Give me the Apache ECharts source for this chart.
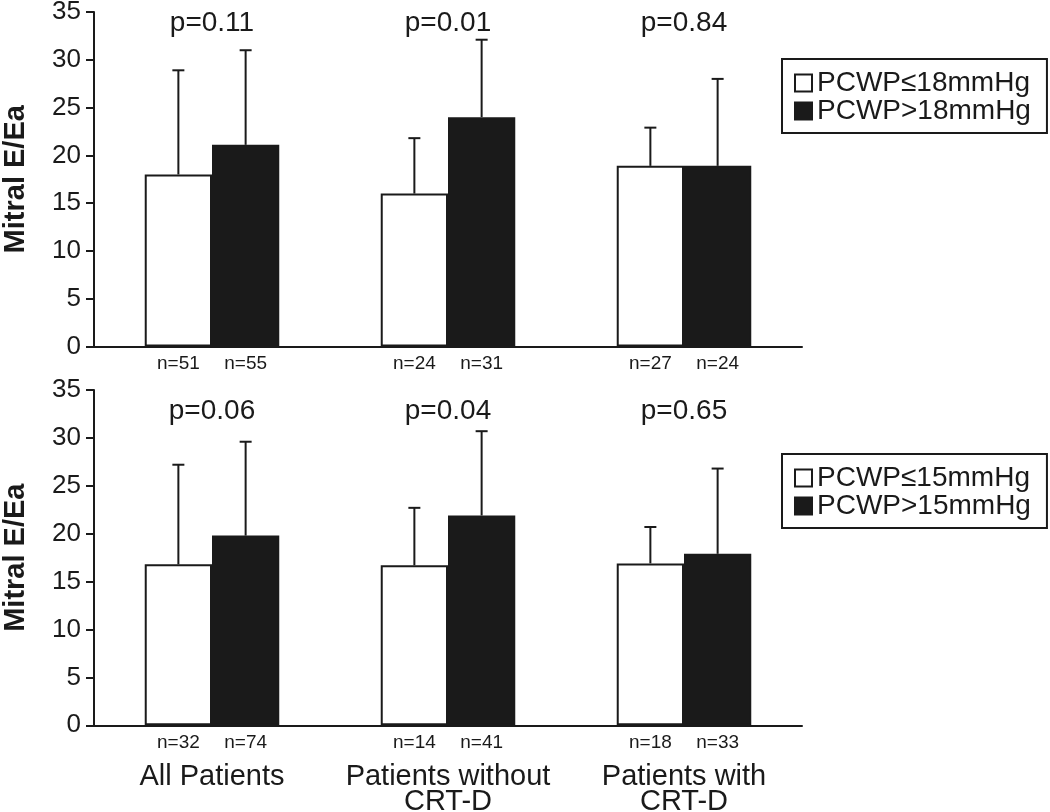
<!DOCTYPE html>
<html><head><meta charset="utf-8">
<script src="https://cdn.jsdelivr.net/npm/echarts@6/dist/echarts.min.js"></script>
<style>html,body{margin:0;padding:0;background:#fff}#c{width:1050px;height:812px}</style>
</head><body><div id="c"></div>
<script>
// ---- data ----
const categories = ['All Patients', 'Patients without\nCRT-D', 'Patients with\nCRT-D'];

const topLowName = 'PCWP≤18mmHg';
const topHighName = 'PCWP>18mmHg';
const topLowMean = [18.0, 16.0, 18.9];
const topLowUpper = [28.9, 21.8, 22.9];
const topHighMean = [21.1, 24.0, 18.9];
const topHighUpper = [31.0, 32.1, 28.0];
const topLowN = [51, 24, 27];
const topHighN = [55, 31, 24];
const topP = ['p=0.11', 'p=0.01', 'p=0.84'];

const botLowName = 'PCWP≤15mmHg';
const botHighName = 'PCWP>15mmHg';
const botLowMean = [16.8, 16.7, 16.9];
const botLowUpper = [27.2, 22.7, 20.7];
const botHighMean = [19.8, 21.9, 17.9];
const botHighUpper = [29.6, 30.7, 26.8];
const botLowN = [32, 14, 18];
const botHighN = [74, 41, 33];
const botP = ['p=0.06', 'p=0.04', 'p=0.65'];

// ---- styling ----
const INK = '#1a1a1a';
const FONT = "'Liberation Sans', Arial, Helvetica, sans-serif";
const GAP = 0.43;

function barSeries(name, idx, mean, nArr, fill) {
  return {
    name: name, type: 'bar', xAxisIndex: idx, yAxisIndex: idx,
    data: mean, barGap: 0, barCategoryGap: (GAP * 100) + '%',
    itemStyle: { color: fill, borderColor: INK, borderWidth: 2 },
    label: {
      show: true, position: 'bottom', distance: 8,
      formatter: p => 'n=' + nArr[p.dataIndex],
      fontFamily: FONT, fontSize: 19, color: INK
    },
    emphasis: { disabled: true }, silent: true, z: 2
  };
}
function errSeries(idx, mean, upper, side) {
  return {
    type: 'custom', xAxisIndex: idx, yAxisIndex: idx, silent: true, z: 3,
    data: mean.map((m, i) => [i, m, upper[i]]),
    renderItem: function (params, api) {
      const band = api.size([1, 0])[0];
      const bw = band * (1 - GAP) / 2;
      const base = api.coord([api.value(0), api.value(1)]);
      const top = api.coord([api.value(0), api.value(2)]);
      const x = base[0] + side * bw / 2;
      const st = { stroke: INK, lineWidth: 2 };
      return { type: 'group', children: [
        { type: 'line', shape: { x1: x, y1: base[1], x2: x, y2: top[1] }, style: st },
        { type: 'line', shape: { x1: x - 6, y1: top[1], x2: x + 6, y2: top[1] }, style: st }
      ]};
    }
  };
}
function pSeries(idx, texts, dy) {
  return {
    type: 'scatter', xAxisIndex: idx, yAxisIndex: idx, silent: true,
    symbolSize: 0, itemStyle: { opacity: 1, color: INK },
    data: texts.map((t, i) => [i, 35]),
    label: { show: true, position: 'inside', offset: [0, dy], formatter: p => texts[p.dataIndex],
      fontFamily: FONT, fontSize: 28, color: INK, opacity: 1 }
  };
}
function xAxis(idx, showLabels) {
  return {
    type: 'category', gridIndex: idx, data: categories,
    axisLine: { lineStyle: { color: INK, width: 2 } },
    axisTick: { show: false },
    axisLabel: { show: showLabels, fontFamily: FONT, fontSize: 29, lineHeight: 25, margin: 39, color: INK, interval: 0 },
    splitLine: { show: false }
  };
}
function yAxis(idx) {
  return {
    type: 'value', gridIndex: idx, min: 0, max: 35, interval: 5,
    axisLine: { show: true, lineStyle: { color: INK, width: 2 } },
    axisTick: { show: true, length: 8, lineStyle: { color: INK, width: 2 } },
    axisLabel: { fontFamily: FONT, fontSize: 26, margin: 13, color: INK },
    splitLine: { show: false },
    name: 'Mitral E/Ea', nameLocation: 'middle', nameGap: 64,
    nameTextStyle: { fontFamily: FONT, fontWeight: 'bold', fontSize: 29, color: INK }
  };
}
function legend(names, top) {
  return {
    data: names, left: 782, top: top, orient: 'vertical', selectedMode: false,
    borderColor: INK, borderWidth: 2, padding: [10, 16, 8, 12],
    itemWidth: 17, itemHeight: 17, itemGap: 0, icon: 'rect',
    textStyle: { fontFamily: FONT, fontSize: 28, lineHeight: 28, color: INK }
  };
}

const chart = echarts.init(document.getElementById('c'), null, { renderer: 'canvas' });
chart.setOption({
  animation: false,
  backgroundColor: '#fff',
  grid: [
    { left: 94, top: 12, width: 708, height: 334.5, outerBoundsMode: 'none', containLabel: false },
    { left: 94, top: 390, width: 708, height: 335.3, outerBoundsMode: 'none', containLabel: false }
  ],
  xAxis: [xAxis(0, false), xAxis(1, true)],
  yAxis: [yAxis(0), yAxis(1)],
  legend: [legend([topLowName, topHighName], 59), legend([botLowName, botHighName], 454)],
  series: [
    barSeries(topLowName, 0, topLowMean, topLowN, '#ffffff'),
    barSeries(topHighName, 0, topHighMean, topHighN, INK),
    errSeries(0, topLowMean, topLowUpper, -1),
    errSeries(0, topHighMean, topHighUpper, 1),
    pSeries(0, topP, 11),
    barSeries(botLowName, 1, botLowMean, botLowN, '#ffffff'),
    barSeries(botHighName, 1, botHighMean, botHighN, INK),
    errSeries(1, botLowMean, botLowUpper, -1),
    errSeries(1, botHighMean, botHighUpper, 1),
    pSeries(1, botP, 21)
  ]
});
</script>
</body></html>
